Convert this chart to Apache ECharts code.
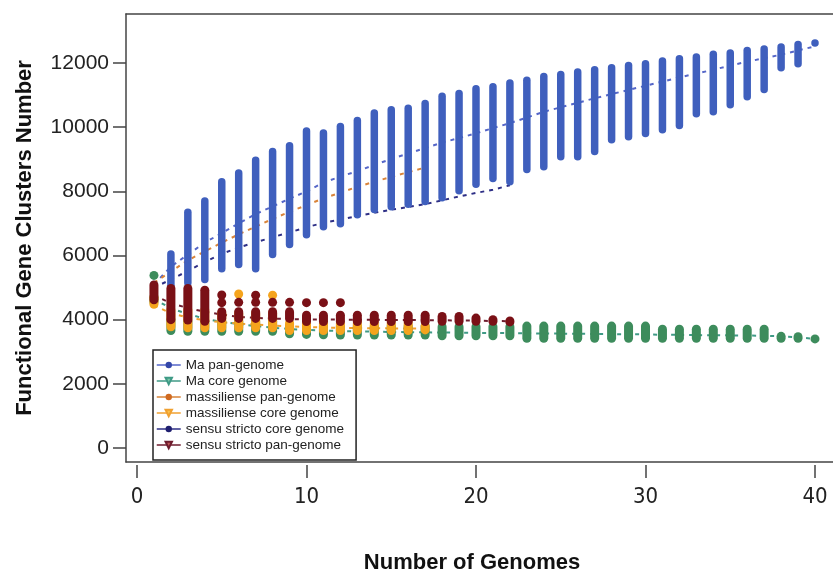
<!DOCTYPE html>
<html>
<head>
<meta charset="utf-8">
<script src="https://cdn.jsdelivr.net/npm/echarts@6/dist/echarts.min.js"></script>
<style>
  html, body { margin: 0; padding: 0; background: #fff; }
  #main { width: 833px; height: 573px; }
</style>
</head>
<body>
<div id="main"></div>
<script>
// number of genomes sampled
const genomes = [1, 2, 3, 4, 5, 6, 7, 8, 9, 10, 11, 12, 13, 14, 15, 16, 17, 18, 19, 20,
  21, 22, 23, 24, 25, 26, 27, 28, 29, 30, 31, 32, 33, 34, 35, 36, 37, 38, 39, 40];

// Ma pan-genome: spread of the permutations (low / high) and mean line
const maPanLow = [5000, 5050, 5150, 5250, 5590, 5720, 5590, 6030, 6340, 6650, 6900, 6990, 7270, 7430, 7520, 7600, 7680, 7800, 8020, 8220,
  8400, 8300, 8680, 8770, 9080, 9080, 9240, 9610, 9700, 9800, 9920, 10050, 10420, 10480, 10700, 10950, 11170, 11850, 11980, 12620];
const maPanHigh = [5100, 6050, 7350, 7700, 8300, 8570, 8970, 9240, 9420, 9880, 9820, 10020, 10210, 10440, 10540, 10590, 10740, 10960, 11050, 11200,
  11260, 11380, 11460, 11580, 11640, 11720, 11790, 11850, 11920, 11980, 12060, 12130, 12190, 12270, 12310, 12390, 12440, 12500, 12580, 12620];
const maPanMean = [5100, 5650, 6030, 6400, 6700, 7000, 7290, 7530, 7770, 8000, 8270, 8460, 8630, 8820, 9010, 9180, 9350, 9520, 9660, 9810,
  9970, 10125, 10300, 10480, 10620, 10760, 10900, 11030, 11160, 11290, 11420, 11550, 11670, 11790, 11920, 12040, 12150, 12260, 12390, 12520];

// Ma core genome
const maCoreLow = [4550, 3660, 3640, 3640, 3640, 3640, 3640, 3640, 3560, 3540, 3530, 3520, 3520, 3520, 3520, 3520, 3520, 3500, 3500, 3500,
  3500, 3500, 3420, 3420, 3420, 3420, 3420, 3420, 3420, 3420, 3420, 3420, 3420, 3420, 3420, 3420, 3420, 3420, 3420, 3400];
const maCoreHigh = [4700, 4000, 3950, 3950, 3950, 3950, 3950, 3950, 3800, 3800, 3800, 3800, 3800, 3800, 3800, 3800, 3800, 3780, 3780, 3780,
  3780, 3780, 3800, 3800, 3800, 3800, 3800, 3800, 3800, 3800, 3700, 3700, 3700, 3700, 3700, 3700, 3700, 3480, 3470, 3400];
const maCoreMean = [4650, 4350, 4180, 4030, 3930, 3860, 3800, 3750, 3710, 3680, 3660, 3645, 3635, 3625, 3615, 3610, 3605, 3600, 3595, 3590,
  3585, 3580, 3575, 3570, 3565, 3560, 3555, 3550, 3545, 3540, 3530, 3525, 3520, 3515, 3510, 3505, 3500, 3480, 3450, 3400];
const maCoreDots = [[1, 5380]];

// massiliense (17 genomes)
const masPanMean = [5150, 5500, 5850, 6130, 6400, 6660, 6900, 7140, 7360, 7570, 7780, 7960, 8140, 8300, 8450, 8600, 8740];
const masCoreLow = [4480, 3780, 3750, 3750, 3750, 3750, 3750, 3750, 3660, 3660, 3660, 3660, 3660, 3660, 3660, 3660, 3680];
const masCoreHigh = [4700, 4300, 4300, 4300, 4200, 4200, 4200, 4200, 3900, 3900, 3900, 3900, 3900, 3900, 3900, 3900, 3800];
const masCoreMean = [4450, 4200, 4070, 3980, 3920, 3880, 3850, 3820, 3790, 3770, 3755, 3745, 3738, 3732, 3728, 3724, 3720];
const masCoreDots = [[6, 4800], [8, 4760]];

// sensu stricto (22 genomes)
const ssCoreMean = [5000, 5250, 5520, 5800, 6050, 6250, 6410, 6570, 6720, 6880, 7020, 7120, 7230, 7330, 7430, 7510, 7600, 7720, 7840, 7950, 8050, 8190];
const ssPanLow = [4620, 4000, 3990, 3950, 4040, 4040, 4040, 4040, 4040, 3940, 3940, 3940, 3940, 3940, 3940, 3940, 3940, 3950, 3950, 3950, 3950, 3930];
const ssPanHigh = [5080, 4970, 4970, 4920, 4250, 4250, 4250, 4250, 4250, 4140, 4140, 4140, 4140, 4140, 4140, 4140, 4140, 4100, 4100, 4050, 4000, 3960];
const ssPanMean = [4750, 4520, 4360, 4250, 4160, 4090, 4055, 4035, 4020, 4010, 4005, 4000, 3998, 3995, 3992, 3990, 3985, 3980, 3975, 3968, 3960, 3950];
const ssPanDots = [[5, 4770], [5, 4530], [6, 4540], [7, 4760], [7, 4540], [8, 4540], [9, 4540], [10, 4530], [11, 4530], [12, 4530]];

const xTicks = [0, 10, 20, 30, 40];
const yTicks = [0, 2000, 4000, 6000, 8000, 10000, 12000];

function ranges(low, high, dots) {
  const out = low.map((v, i) => [genomes[i], v, high[i]]);
  (dots || []).forEach(d => out.push([d[0], d[1], d[1]]));
  return out;
}
function means(vals) {
  return vals.map((v, i) => [genomes[i], v]);
}

// one vertical pill per genome count, from low to high
function columnItem(w) {
  return function (params, api) {
    const top = api.coord([api.value(0), api.value(2)]);
    const bot = api.coord([api.value(0), api.value(1)]);
    return {
      type: 'rect',
      shape: { x: top[0] - w / 2, y: top[1] - w / 2, width: w, height: bot[1] - top[1] + w, r: w / 2 },
      style: { fill: api.visual('color') }
    };
  };
}

function columns(name, data, color, w, z) {
  return {
    type: 'custom', name: name, data: data, renderItem: columnItem(w),
    itemStyle: { color: color }, encode: { x: 0, y: [1, 2] },
    z: z, silent: true, animation: false
  };
}

function meanLine(name, data, color, symbol, fill) {
  return {
    type: 'line', name: name, data: data, showSymbol: false,
    symbol: symbol, symbolRotate: symbol === 'triangle' ? 180 : 0,
    lineStyle: { color: color, width: 2, type: [4, 5] },
    itemStyle: { color: fill || color, borderColor: color, borderWidth: symbol === 'triangle' ? 1 : 0 },
    z: 1, silent: true, animation: false
  };
}

const chart = echarts.init(document.getElementById('main'));

const axisColor = '#444';

const option = {
  backgroundColor: '#fff',
  animation: false,
  grid: { left: 126, right: 0, top: 14, bottom: 111, outerBoundsMode: 'none' },
  xAxis: [
    {
      type: 'value', min: -0.649, max: 41.062, position: 'bottom',
      axisLine: { show: true, onZero: false, lineStyle: { color: axisColor, width: 1.5 } },
      axisTick: { show: false }, axisLabel: { show: false }, splitLine: { show: false }
    },
    {
      type: 'value', min: -0.649, max: 41.062, position: 'bottom', offset: 3,
      axisLine: { show: false, onZero: false },
      axisTick: { show: true, length: 13, customValues: xTicks, lineStyle: { color: axisColor, width: 1.5 } },
      axisLabel: {
        customValues: xTicks, margin: 21, fontSize: 22, color: '#222',
        fontFamily: '"Liberation Sans Narrow", "DejaVu Sans Condensed", "Liberation Sans"'
      },
      splitLine: { show: false }
    },
    {
      type: 'value', min: -0.649, max: 41.062, position: 'top',
      axisLine: { show: true, onZero: false, lineStyle: { color: axisColor, width: 1.5 } },
      axisTick: { show: false }, axisLabel: { show: false }, splitLine: { show: false }
    }
  ],
  yAxis: {
    type: 'value', min: -436, max: 13527,
    axisLine: { show: true, onZero: false, lineStyle: { color: axisColor, width: 1.5 } },
    axisTick: { show: true, length: 13, customValues: yTicks, lineStyle: { color: axisColor, width: 1.5 } },
    axisLabel: {
      customValues: yTicks, margin: 17, fontSize: 21, color: '#222', fontFamily: 'Liberation Sans',
      formatter: v => String(v)
    },
    splitLine: { show: false }
  },
  legend: {
    data: ['Ma pan-genome', 'Ma core genome', 'massiliense pan-genome', 'massiliense core genome',
      'sensu stricto core genome', 'sensu stricto pan-genome'],
    orient: 'vertical', left: 153, top: 350,
    padding: [8, 12, 8, 3], itemWidth: 24, itemHeight: 8, itemGap: 2,
    borderColor: '#222', borderWidth: 1.5, backgroundColor: '#fff',
    lineStyle: { type: 'solid', width: 1.5 },
    textStyle: { fontSize: 13.5, lineHeight: 14, color: '#222', fontFamily: 'Liberation Sans' },
    selectedMode: false
  },
  graphic: [
    {
      type: 'text', x: 25, y: 238, rotation: Math.PI / 2,
      style: {
        text: 'Functional Gene Clusters Number', fill: '#111',
        font: 'bold 22px "Liberation Sans"', align: 'center', verticalAlign: 'middle'
      }
    },
    {
      type: 'text', x: 472, y: 563,
      style: {
        text: 'Number of Genomes', fill: '#111',
        font: 'bold 22px "Liberation Sans"', align: 'center', verticalAlign: 'middle'
      }
    }
  ],
  series: [
    meanLine('Ma pan-genome', means(maPanMean), '#5566c8', 'circle', '#3346a8'),
    meanLine('Ma core genome', means(maCoreMean), '#3f9a86', 'triangle', '#7cc8a8'),
    meanLine('massiliense pan-genome', means(masPanMean), '#d9843a', 'circle', '#d06a20'),
    meanLine('massiliense core genome', means(masCoreMean), '#f0a030', 'triangle', '#f9c24a'),
    meanLine('sensu stricto core genome', means(ssCoreMean), '#2e2f86', 'circle', '#1f1f70'),
    meanLine('sensu stricto pan-genome', means(ssPanMean), '#6e1c2e', 'triangle', '#c05858'),
    columns('Ma pan points', ranges(maPanLow, maPanHigh), '#3f5fbd', 7.5, 2),
    columns('Ma core points', ranges(maCoreLow, maCoreHigh, maCoreDots), '#3d8c5c', 9, 3),
    columns('massiliense core points', ranges(masCoreLow, masCoreHigh, masCoreDots), '#f5a41d', 9, 4),
    columns('sensu stricto pan points', ranges(ssPanLow, ssPanHigh, ssPanDots), '#7a1016', 9, 5)
  ]
};

chart.setOption(option);
</script>
</body>
</html>
